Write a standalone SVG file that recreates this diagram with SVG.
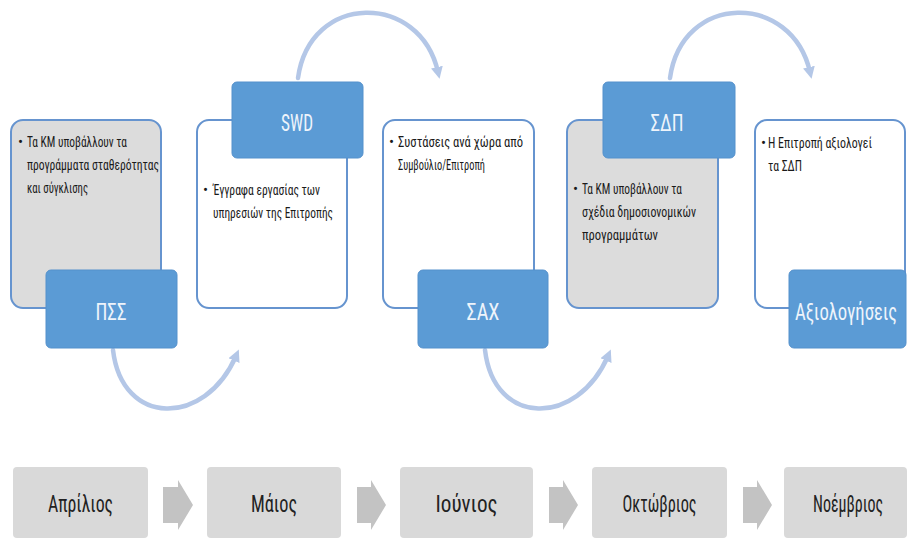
<svg xmlns="http://www.w3.org/2000/svg" width="908" height="539" viewBox="0 0 908 539">
<defs>
<style>
.card{stroke:#6694cf;stroke-width:2;}
.gray{fill:#dcdcdc;}
.white{fill:#ffffff;}
.lab{fill:#5b9bd5;stroke:#5591cc;stroke-width:1;}
.t{font-family:"Liberation Sans Narrow","Roboto Condensed","DejaVu Sans Condensed","Liberation Sans",sans-serif;font-stretch:condensed;}
.ct{font-size:15px;fill:#1a1a1a;}
.lt{font-size:23px;fill:#eef4fb;text-anchor:middle;}
.mt{font-size:23px;fill:#222222;text-anchor:middle;}
.mbox{fill:#d9d9d9;}
.marr{fill:#c3c3c3;}
.arc{fill:none;stroke:#b4c7e7;stroke-width:4.5;stroke-linecap:round;}
</style>
<marker id="ah" markerUnits="userSpaceOnUse" markerWidth="14" markerHeight="14" refX="5" refY="7" orient="auto">
<path d="M0,1 L12,7 L0,13 Z" fill="#b4c7e7"/>
</marker>
</defs>
<rect width="908" height="539" fill="#ffffff"/>

<g id="connectors">
<path class="arc" d="M113,350 C122,427 205,427 236,356" marker-end="url(#ah)"/>
<path class="arc" d="M298,78 C310,-8 420,-8 438,72" marker-end="url(#ah)"/>
<path class="arc" d="M485,350 C494,427 577,427 608,356" marker-end="url(#ah)"/>
<path class="arc" d="M670,78 C682,-8 792,-8 810,72" marker-end="url(#ah)"/>
</g>

<g id="card-pss">
<rect class="card gray" x="11" y="120" width="150" height="188" rx="12"/>
<text class="t ct" x="18" y="147">•</text>
<text class="t ct" x="27" y="147" textLength="100" lengthAdjust="spacingAndGlyphs">Τα ΚΜ υποβάλλουν τα</text>
<text class="t ct" x="27" y="170" textLength="132" lengthAdjust="spacingAndGlyphs">προγράμματα σταθερότητας</text>
<text class="t ct" x="27" y="193" textLength="61" lengthAdjust="spacingAndGlyphs">και σύγκλισης</text>
</g>
<g id="card-swd">
<rect class="card white" x="197" y="120" width="150" height="188" rx="12"/>
<text class="t ct" x="203" y="195">•</text>
<text class="t ct" x="213" y="195" textLength="107" lengthAdjust="spacingAndGlyphs">Έγγραφα εργασίας των</text>
<text class="t ct" x="213" y="218" textLength="120" lengthAdjust="spacingAndGlyphs">υπηρεσιών της Επιτροπής</text>
</g>
<g id="card-sax">
<rect class="card white" x="383" y="120" width="151" height="188" rx="12"/>
<text class="t ct" x="389" y="147">•</text>
<text class="t ct" x="398" y="147" textLength="125" lengthAdjust="spacingAndGlyphs">Συστάσεις ανά χώρα από</text>
<text class="t ct" x="398" y="170" textLength="87" lengthAdjust="spacingAndGlyphs">Συμβούλιο/Επιτροπή</text>
</g>
<g id="card-sdp">
<rect class="card gray" x="567" y="120" width="151" height="188" rx="12"/>
<text class="t ct" x="573" y="194">•</text>
<text class="t ct" x="582" y="194" textLength="100" lengthAdjust="spacingAndGlyphs">Τα ΚΜ υποβάλλουν τα</text>
<text class="t ct" x="582" y="217" textLength="114" lengthAdjust="spacingAndGlyphs">σχέδια δημοσιονομικών</text>
<text class="t ct" x="582" y="240" textLength="76" lengthAdjust="spacingAndGlyphs">προγραμμάτων</text>
</g>
<g id="card-eval">
<rect class="card white" x="755" y="120" width="150" height="188" rx="12"/>
<text class="t ct" x="761" y="148">•</text>
<text class="t ct" x="768" y="148" textLength="104" lengthAdjust="spacingAndGlyphs">Η Επιτροπή αξιολογεί</text>
<text class="t ct" x="768" y="171" textLength="34" lengthAdjust="spacingAndGlyphs">τα ΣΔΠ</text>
</g>

<g id="label-pss">
<rect class="lab" x="46" y="270" width="131" height="78" rx="5"/>
<text class="t lt" x="111" y="320" textLength="31" lengthAdjust="spacingAndGlyphs">ΠΣΣ</text>
</g>
<g id="label-swd">
<rect class="lab" x="232" y="82" width="131" height="76" rx="5"/>
<text class="t lt" x="297" y="131" textLength="32" lengthAdjust="spacingAndGlyphs">SWD</text>
</g>
<g id="label-sax">
<rect class="lab" x="418" y="270" width="130" height="78" rx="5"/>
<text class="t lt" x="483" y="320" textLength="33" lengthAdjust="spacingAndGlyphs">ΣΑΧ</text>
</g>
<g id="label-sdp">
<rect class="lab" x="603" y="82" width="132" height="76" rx="5"/>
<text class="t lt" x="667" y="131" textLength="33" lengthAdjust="spacingAndGlyphs">ΣΔΠ</text>
</g>
<g id="label-eval">
<rect class="lab" x="789" y="270" width="117" height="78" rx="5"/>
<text class="t lt" x="846" y="320" font-size="21" textLength="102" lengthAdjust="spacingAndGlyphs">Αξιολογήσεις</text>
</g>

<g id="month-apr">
<rect class="mbox" x="13" y="467" width="135" height="71" rx="4"/>
<text class="t mt" x="80.5" y="512" textLength="65" lengthAdjust="spacingAndGlyphs">Απρίλιος</text>
</g>
<g id="month-may">
<rect class="mbox" x="207" y="467" width="134" height="71" rx="4"/>
<text class="t mt" x="274" y="512" textLength="46" lengthAdjust="spacingAndGlyphs">Μάιος</text>
</g>
<g id="month-jun">
<rect class="mbox" x="400" y="467" width="133" height="71" rx="4"/>
<text class="t mt" x="466.5" y="512" textLength="62" lengthAdjust="spacingAndGlyphs">Ιούνιος</text>
</g>
<g id="month-oct">
<rect class="mbox" x="592" y="467" width="135" height="71" rx="4"/>
<text class="t mt" x="659.5" y="512" textLength="74" lengthAdjust="spacingAndGlyphs">Οκτώβριος</text>
</g>
<g id="month-nov">
<rect class="mbox" x="784" y="467" width="123" height="71" rx="4"/>
<text class="t mt" x="848" y="512" textLength="70" lengthAdjust="spacingAndGlyphs">Νοέμβριος</text>
</g>

<g id="month-arrows">
<path class="marr" d="M163,487 H178 V480 L193,505 L178,530 V523 H163 Z"/>
<path class="marr" d="M357,487 H371 V480 L386,505 L371,530 V523 H357 Z"/>
<path class="marr" d="M549,487 H563 V480 L578,505 L563,530 V523 H549 Z"/>
<path class="marr" d="M743,487 H757 V480 L772,505 L757,530 V523 H743 Z"/>
</g>
</svg>
